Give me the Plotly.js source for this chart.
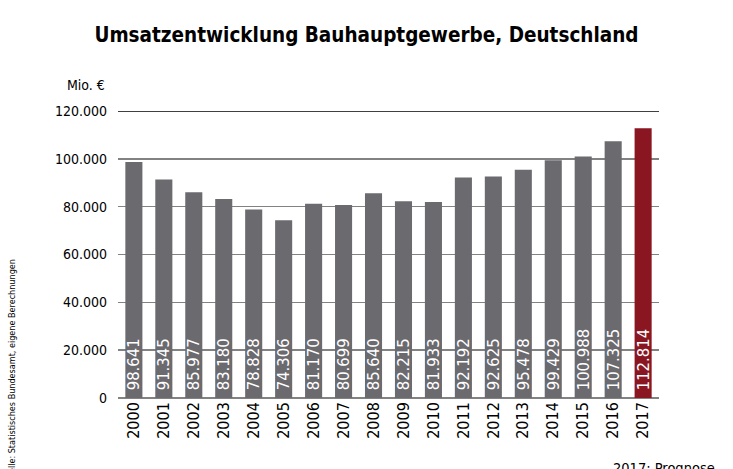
<!DOCTYPE html>
<html><head><meta charset="utf-8">
<script src="https://cdn.plot.ly/plotly-3.0.1.min.js"></script>
<style>html,body{margin:0;padding:0;background:#fff;}
#chart text{font-stretch:condensed !important;}</style>
</head><body>
<div id="chart" style="width:733px;height:469px;"></div>
<script>
const years = ['2000','2001','2002','2003','2004','2005','2006','2007','2008','2009','2010','2011','2012','2013','2014','2015','2016','2017'];
const umsatz = [98641,91345,85977,83180,78828,74306,81170,80699,85640,82215,81933,92192,92625,95478,99429,100988,107325,112814];
const barColors = years.map(y => y === '2017' ? '#8a1622' : '#6b6a6f');
const yTicks = [0,20000,40000,60000,80000,100000,120000];
const FONT = '"DejaVu Sans Condensed", "DejaVu Sans", sans-serif';

const trace = {
  type: 'bar', x: years, y: umsatz,
  marker: {color: barColors},
  texttemplate: '\u00a0%{y:,d}', textposition: 'inside', insidetextanchor: 'start',
  constraintext: 'none',
  textangle: -90, textfont: {color: '#ffffff', size: 16.5, family: FONT},
  hoverinfo: 'none', cliponaxis: false
};

const layout = {
  width: 733, height: 469,
  margin: {l: 118, r: 74, t: 111, b: 71},
  separators: ',.',
  paper_bgcolor: '#fff', plot_bgcolor: '#fff',
  bargap: 0.43,
  showlegend: false,
  font: {family: FONT, color: '#000', size: 14},
  title: {text: '<b>Umsatzentwicklung Bauhauptgewerbe, Deutschland</b>', x: 0.5, xanchor: 'center', y: 0.925, yanchor: 'middle', font: {size: 20.5, family: FONT, color: '#000'}},
  xaxis: {type: 'category', tickangle: -90, showgrid: false, showline: false, ticks: '', tickfont: {size: 16, family: FONT}, range: [-0.53, 17.53]},
  yaxis: {range: [0, 120000], tickvals: yTicks, tickformat: ',d', showgrid: true, gridcolor: '#828282', gridwidth: 1.5, zeroline: true, zerolinecolor: '#828282', zerolinewidth: 1.5, showline: false, ticks: '', ticklen: 0, ticklabelstandoff: 10, tickfont: {size: 14, family: FONT}},
  shapes: [{type: 'line', xref: 'paper', yref: 'y', x0: 0, x1: 1, y0: 120000, y1: 120000, line: {color: '#000', width: 1.5}}],
  annotations: [
    {text: 'Mio. €', xref: 'paper', yref: 'paper', x: -0.02, y: 1.09, xanchor: 'right', yanchor: 'middle', showarrow: false, font: {size: 14, family: FONT}},
    {text: 'Quelle: Statistisches Bundesamt, eigene Berechnungen', xref: 'paper', yref: 'paper', x: -0.196, y: 0.092, xanchor: 'center', yanchor: 'middle', textangle: -90, showarrow: false, font: {size: 9, family: FONT}},
    {text: '2017: Prognose', xref: 'paper', yref: 'paper', x: 1.107, y: -0.245, xanchor: 'right', yanchor: 'middle', showarrow: false, font: {size: 14.5, family: FONT}}
  ]
};

Plotly.newPlot('chart', [trace], layout, {staticPlot: true, displayModeBar: false});
</script>
</body></html>
